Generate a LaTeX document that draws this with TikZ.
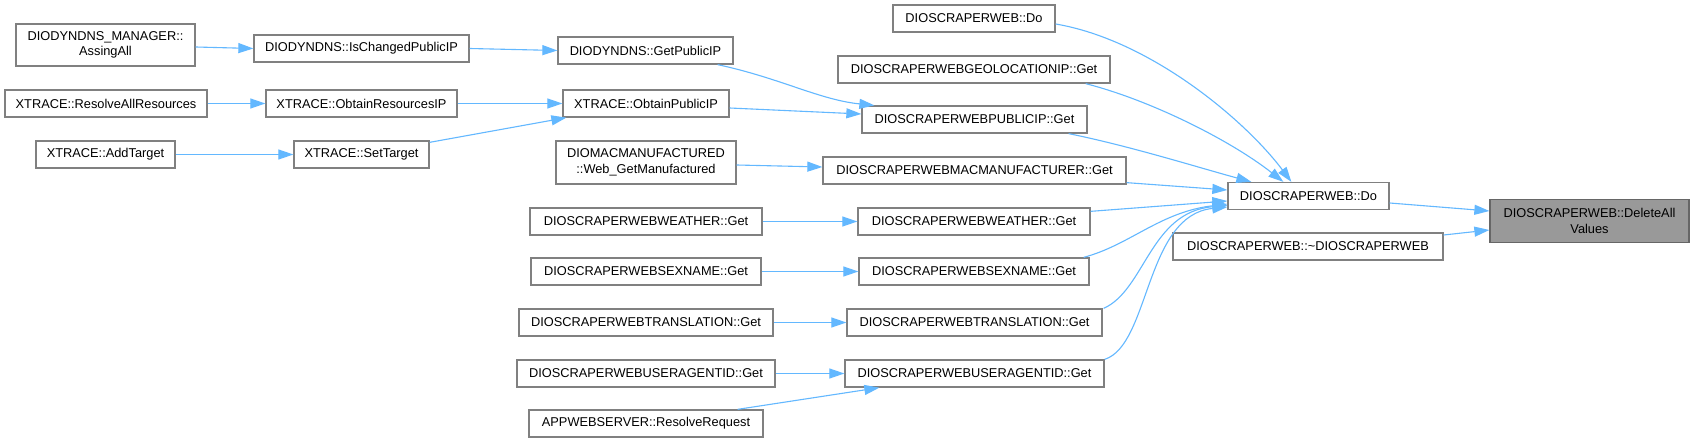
\documentclass[tikz,border=0pt]{standalone}
\usepackage{fontspec}
\setmainfont{Liberation Sans}
\usetikzlibrary{arrows.meta}
\definecolor{edgeblue}{HTML}{63B8FF}
\definecolor{boxgray}{HTML}{808080}
\definecolor{fillgray}{HTML}{999999}
\definecolor{bordergray}{HTML}{666666}
\begin{document}
\begin{tikzpicture}[x=1pt,y=1pt,
  box/.style={draw=boxgray, line width=1.3pt, fill=white, inner sep=0pt, align=center,
    font=\fontsize{12.8}{15.5}\selectfont},
  call/.style={draw=edgeblue, line width=1.1pt, -{Triangle[length=15pt,width=10pt]}},
]
\path[use as bounding box, fill=white] (0,0) rectangle (1694,-443);

\node[box,minimum width=179pt,minimum height=42pt] (mgr) at (105.5,-45) {DIODYNDNS\_MANAGER::\\AssingAll};
\node[box,minimum width=215pt,minimum height=27pt] (ischg) at (361.5,-48.5) {DIODYNDNS::IsChangedPublicIP};
\node[box,minimum width=202pt,minimum height=27pt] (resall) at (106,-103.5) {XTRACE::ResolveAllResources};
\node[box,minimum width=191pt,minimum height=27pt] (obtres) at (361.5,-103.5) {XTRACE::ObtainResourcesIP};
\node[box,minimum width=139pt,minimum height=27pt] (addt) at (105.5,-154.5) {XTRACE::AddTarget};
\node[box,minimum width=135pt,minimum height=27pt] (sett) at (361.5,-154.5) {XTRACE::SetTarget};
\node[box,minimum width=175pt,minimum height=27pt] (getpub) at (645.5,-50.5) {DIODYNDNS::GetPublicIP};
\node[box,minimum width=166pt,minimum height=27pt] (obtpub) at (646,-103.5) {XTRACE::ObtainPublicIP};
\node[box,minimum width=180pt,minimum height=43pt] (macmf) at (646,-162.5) {DIOMACMANUFACTURED\\::Web\_GetManufactured};
\node[box,minimum width=232pt,minimum height=27pt] (weathL) at (646,-221.5) {DIOSCRAPERWEBWEATHER::Get};
\node[box,minimum width=230pt,minimum height=27pt] (sexL) at (646,-271.5) {DIOSCRAPERWEBSEXNAME::Get};
\node[box,minimum width=254pt,minimum height=27pt] (transL) at (646,-322.5) {DIOSCRAPERWEBTRANSLATION::Get};
\node[box,minimum width=258pt,minimum height=27pt] (uaL) at (646,-373.5) {DIOSCRAPERWEBUSERAGENTID::Get};
\node[box,minimum width=234pt,minimum height=27pt] (app) at (646,-423.5) {APPWEBSERVER::ResolveRequest};
\node[box,minimum width=162pt,minimum height=27pt] (doTop) at (974,-18.5) {DIOSCRAPERWEB::Do};
\node[box,minimum width=272pt,minimum height=27pt] (geo) at (974,-69.5) {DIOSCRAPERWEBGEOLOCATIONIP::Get};
\node[box,minimum width=225pt,minimum height=27pt] (pubget) at (974.5,-119.5) {DIOSCRAPERWEBPUBLICIP::Get};
\node[box,minimum width=303pt,minimum height=27pt] (macget) at (974.5,-170.5) {DIOSCRAPERWEBMACMANUFACTURER::Get};
\node[box,minimum width=232pt,minimum height=27pt] (weathR) at (974,-221.5) {DIOSCRAPERWEBWEATHER::Get};
\node[box,minimum width=230pt,minimum height=27pt] (sexR) at (974,-271.5) {DIOSCRAPERWEBSEXNAME::Get};
\node[box,minimum width=255pt,minimum height=27pt] (transR) at (974.5,-322.5) {DIOSCRAPERWEBTRANSLATION::Get};
\node[box,minimum width=259pt,minimum height=27pt] (uaR) at (974.5,-373.5) {DIOSCRAPERWEBUSERAGENTID::Get};
\node[box,minimum width=161pt,minimum height=27pt] (doMain) at (1308.5,-196) {DIOSCRAPERWEB::Do};
\node[box,minimum width=270pt,minimum height=27pt] (dtor) at (1308,-246.5) {DIOSCRAPERWEB::\textasciitilde DIOSCRAPERWEB};
\node[box,fill=fillgray,draw=bordergray,minimum width=199pt,minimum height=43pt] (del) at (1589.5,-221) {DIOSCRAPERWEB::DeleteAll\\Values};

\draw[call] ([yshift=-2pt]mgr.east) -- (ischg.west);
\draw[call] (ischg.east) -- (getpub.west);
\draw[call] (resall.east) -- (obtres.west);
\draw[call] (obtres.east) -- (obtpub.west);
\draw[call] (addt.east) -- (sett.west);
\draw[call] ([yshift=-2pt]sett.north east) -- ([xshift=4pt]obtpub.south west);
\draw[call] ([xshift=-16pt]getpub.south east) .. controls (780,-78) and (820,-100) .. ([xshift=13pt]pubget.north west);
\draw[call] ([yshift=-4.5pt]obtpub.east) -- ([yshift=5.5pt]pubget.west);
\draw[call] ([yshift=-2.5pt]macmf.east) -- ([yshift=3.5pt]macget.west);
\draw[call] (weathL.east) -- (weathR.west);
\draw[call] (sexL.east) -- (sexR.west);
\draw[call] (transL.east) -- (transR.west);
\draw[call] (uaL.east) -- (uaR.west);
\draw[call] ([xshift=-26pt]app.north east) -- ([xshift=35pt]uaR.south west);
\draw[call] ([yshift=-5.5pt]doTop.east) .. controls (1150,-40) and (1245,-120) .. ([xshift=64pt]doMain.north west);
\draw[call] ([xshift=-25pt]geo.south east) .. controls (1150,-100) and (1230,-140) .. ([xshift=56pt]doMain.north west);
\draw[call] ([xshift=-19pt]pubget.south east) .. controls (1130,-146) and (1200,-168) .. ([xshift=24pt]doMain.north west);
\draw[call] ([yshift=2pt]macget.south east) -- ([yshift=6pt]doMain.west);
\draw[call] ([yshift=-4pt]weathR.north east) -- ([yshift=-5pt]doMain.west);
\draw[call] ([xshift=-6pt]sexR.north east) .. controls (1130,-245) and (1160,-212) .. ([yshift=-8pt]doMain.west);
\draw[call] ([xshift=1pt]transR.north east) .. controls (1145,-290) and (1150,-212) .. ([yshift=-9.5pt]doMain.west);
\draw[call] (uaR.north east) .. controls (1150,-345) and (1145,-215) .. ([yshift=-11pt]doMain.west);
\draw[call] ([yshift=-7pt]doMain.east) -- ([yshift=10pt]del.west);
\draw[call] ([yshift=11.5pt]dtor.east) -- ([yshift=-9pt]del.west);
\end{tikzpicture}
\end{document}
